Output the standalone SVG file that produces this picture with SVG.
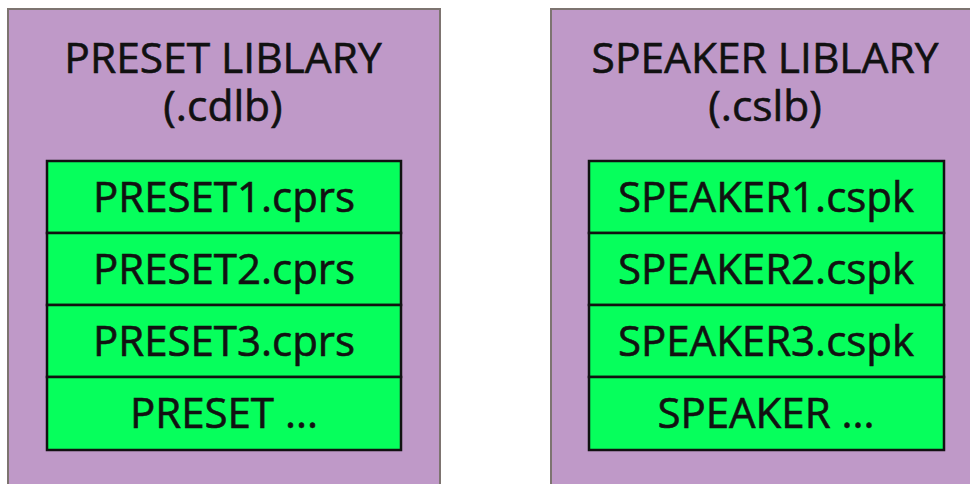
<svg xmlns="http://www.w3.org/2000/svg" width="970" height="484" viewBox="0 0 970 484">
  <style>
    .lib { fill: #bf99c8; stroke: #7d7470; stroke-width: 2; }
    .item { fill: #06ff5c; stroke: #111; stroke-width: 2.5; }
    .title, .label { font-family: "Open Sans", "Liberation Sans", sans-serif; fill: #111; stroke: #111; stroke-width: 0.6; text-anchor: middle; }
    .title { font-size: 42.5px; }
    .label { font-size: 42px; }
  </style>
  <rect width="970" height="484" fill="#ffffff"/>

  <!-- preset library container -->
  <g id="preset-library">
    <rect class="lib" x="8" y="9" width="432" height="490"/>
    <text class="title" x="223" y="73">PRESET LIBLARY</text>
    <text class="title" x="223" y="121">(.cdlb)</text>
  </g>
  <g id="preset1"><rect class="item" x="47" y="161" width="354" height="72"/><text class="label" x="224" y="212">PRESET1.cprs</text></g>
  <g id="preset2"><rect class="item" x="47" y="233" width="354" height="72"/><text class="label" x="224" y="284">PRESET2.cprs</text></g>
  <g id="preset3"><rect class="item" x="47" y="305" width="354" height="72"/><text class="label" x="224" y="356">PRESET3.cprs</text></g>
  <g id="preset-more"><rect class="item" x="47" y="377" width="354" height="73"/><text class="label" x="224" y="428">PRESET ...</text></g>

  <!-- speaker library container -->
  <g id="speaker-library">
    <rect class="lib" x="551" y="9" width="440" height="490"/>
    <text class="title" x="765" y="73">SPEAKER LIBLARY</text>
    <text class="title" x="765" y="121">(.cslb)</text>
  </g>
  <g id="speaker1"><rect class="item" x="589" y="161" width="355" height="72"/><text class="label" x="766" y="212">SPEAKER1.cspk</text></g>
  <g id="speaker2"><rect class="item" x="589" y="233" width="355" height="72"/><text class="label" x="766" y="284">SPEAKER2.cspk</text></g>
  <g id="speaker3"><rect class="item" x="589" y="305" width="355" height="72"/><text class="label" x="766" y="356">SPEAKER3.cspk</text></g>
  <g id="speaker-more"><rect class="item" x="589" y="377" width="355" height="73"/><text class="label" x="766" y="428">SPEAKER ...</text></g>

  <g id="connectors"/>
</svg>
